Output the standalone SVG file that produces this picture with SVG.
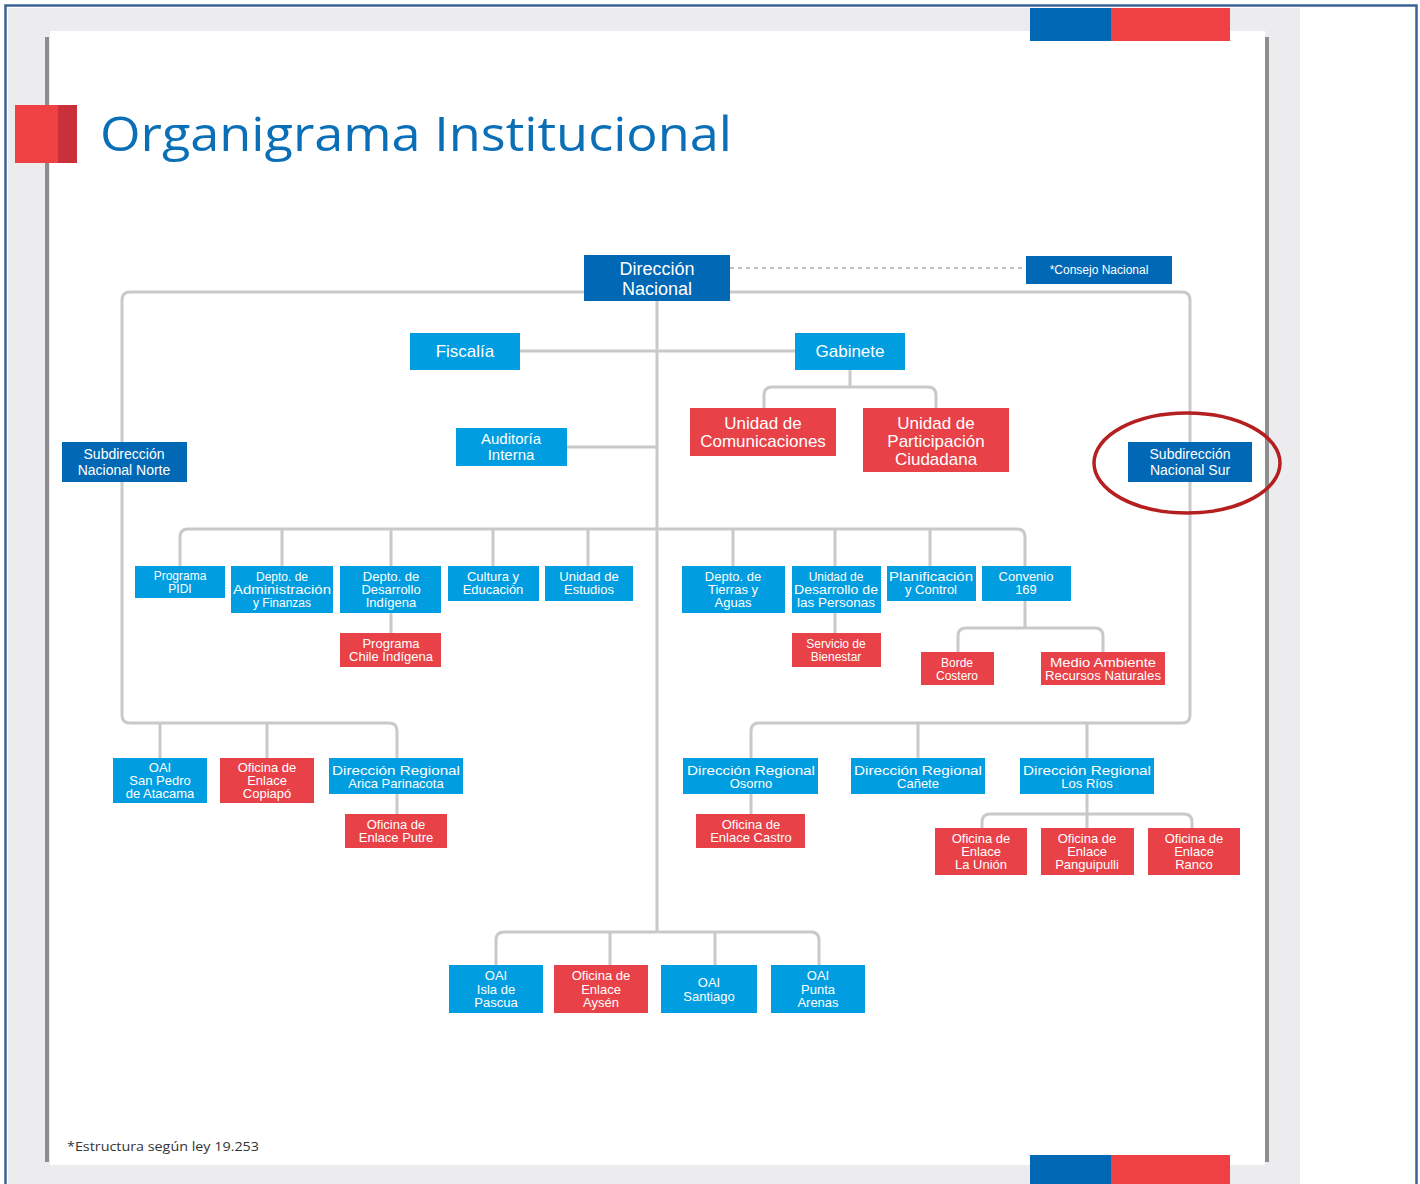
<svg xmlns="http://www.w3.org/2000/svg" width="1420" height="1184" viewBox="0 0 1420 1184">
<style>
.db{fill:#0068b4}
.lb{fill:#009ee0}
.rd{fill:#e84147}
.t{fill:#fff;font-family:"Liberation Sans",Arial,sans-serif;font-size:13px;text-anchor:middle}
.t17{font-size:17px}
.t14{font-size:14px}
.t12{font-size:12px}
#connectors path{fill:none;stroke:#c9c9c9;stroke-width:3}
</style>
<rect x="0" y="0" width="1420" height="1184" fill="#fff"/>
<rect x="8" y="8" width="1292" height="1176" fill="#ececee"/>
<rect x="50" y="31" width="1215" height="1134" fill="#fff"/>
<rect x="45" y="37" width="4" height="1125" fill="#8d8d8d"/>
<rect x="1265" y="37" width="4" height="1125" fill="#8d8d8d"/>
<path d="M5.5,1184 V5.5 H1416.5 V1184" fill="none" stroke="#3b6394" stroke-width="2.5"/>
<rect x="1030" y="8" width="81" height="33" fill="#0068b4"/>
<rect x="1111" y="8" width="119" height="33" fill="#ef4144"/>
<rect x="1030" y="1155" width="81" height="29" fill="#0068b4"/>
<rect x="1111" y="1155" width="119" height="29" fill="#ef4144"/>
<rect x="15" y="105" width="62" height="58" fill="#ef4144"/>
<rect x="58" y="105" width="19" height="58" fill="#c9303a"/>
<text x="100" y="151" font-family="Open Sans, Noto Sans, sans-serif" font-size="48" fill="#0a6fb6" textLength="632" lengthAdjust="spacingAndGlyphs">Organigrama Institucional</text>
<text x="67" y="1151" font-family="Open Sans, Noto Sans, sans-serif" font-size="12" fill="#333" textLength="192" lengthAdjust="spacingAndGlyphs">*Estructura según ley 19.253</text>

<g id="connectors">
<path d="M730,268 H1026" style="stroke:#aaaaaa;stroke-width:1.5;stroke-dasharray:4 4"/>
<path d="M584,292 H130 Q122,292 122,300 V715 Q122,723 130,723 H389 Q397,723 397,731 V758"/>
<path d="M730,292 H1182 Q1190,292 1190,300 V715 Q1190,723 1182,723 H759 Q751,723 751,731 V758"/>
<path d="M160,723 V758 M267,723 V758 M918,723 V758 M1087,723 V758"/>
<path d="M657,301 V932"/>
<path d="M496,965 V940 Q496,932 504,932 H811 Q819,932 819,940 V965 M610,932 V965 M715,932 V965"/>
<path d="M520,351 H795"/>
<path d="M850,370 V387 M764,408 V395 Q764,387 772,387 H928 Q936,387 936,395 V408"/>
<path d="M567,447 H657"/>
<path d="M180,566 V537 Q180,529 188,529 H1017 Q1025,529 1025,537 V566"/>
<path d="M282,529 V566 M391,529 V566 M493,529 V566 M588,529 V566 M733,529 V566 M835,529 V566 M930,529 V566"/>
<path d="M391,613 V633 M835,613 V633"/>
<path d="M1025,601 V628 M958,652 V636 Q958,628 966,628 H1095 Q1103,628 1103,636 V652"/>
<path d="M397,794 V814 M751,794 V814"/>
<path d="M1087,794 V828 M982,828 V822 Q982,814 990,814 H1184 Q1192,814 1192,822 V828"/>
</g>

<g id="direccion-nacional"><rect class="db" x="584" y="255" width="146" height="46"/><text class="t" style="font-size:18px" x="657"><tspan x="657" y="275">Dirección</tspan><tspan x="657" y="295">Nacional</tspan></text></g>
<g id="consejo-nacional"><rect class="db" x="1026" y="256" width="146" height="28"/><text class="t t12" x="1099" y="274">*Consejo Nacional</text></g>
<g id="fiscalia"><rect class="lb" x="410" y="333" width="110" height="37"/><text class="t t17" x="465" y="357">Fiscalía</text></g>
<g id="gabinete"><rect class="lb" x="795" y="333" width="110" height="37"/><text class="t t17" x="850" y="357">Gabinete</text></g>
<g id="unidad-comunicaciones"><rect class="rd" x="690" y="408" width="146" height="48"/><text class="t t17"><tspan x="763" y="429">Unidad de</tspan><tspan x="763" y="447">Comunicaciones</tspan></text></g>
<g id="unidad-participacion"><rect class="rd" x="863" y="408" width="146" height="64"/><text class="t t17"><tspan x="936" y="429">Unidad de</tspan><tspan x="936" y="447">Participación</tspan><tspan x="936" y="465">Ciudadana</tspan></text></g>
<g id="auditoria"><rect class="lb" x="456" y="428" width="111" height="38"/><text class="t" style="font-size:15px"><tspan x="511" y="444">Auditoría</tspan><tspan x="511" y="460">Interna</tspan></text></g>
<g id="subdireccion-norte"><rect class="db" x="62" y="442" width="125" height="40"/><text class="t t14"><tspan x="124" y="459">Subdirección</tspan><tspan x="124" y="475">Nacional Norte</tspan></text></g>
<g id="subdireccion-sur"><rect class="db" x="1128" y="442" width="124" height="40"/><text class="t t14"><tspan x="1190" y="459">Subdirección</tspan><tspan x="1190" y="475">Nacional Sur</tspan></text></g>
<ellipse cx="1187" cy="463" rx="93" ry="50" fill="none" stroke="#b51f1f" stroke-width="3.5"/>

<g id="programa-pidi"><rect class="lb" x="135" y="566" width="90" height="32"/><text class="t t12"><tspan x="180" y="580">Programa</tspan><tspan x="180" y="593">PIDI</tspan></text></g>
<g id="depto-administracion"><rect class="lb" x="231" y="566" width="102" height="47"/><text class="t t12"><tspan x="282" y="581">Depto. de</tspan><tspan x="282" y="594" textLength="98" lengthAdjust="spacingAndGlyphs">Administración</tspan><tspan x="282" y="607">y Finanzas</tspan></text></g>
<g id="depto-desarrollo-indigena"><rect class="lb" x="340" y="566" width="101" height="47"/><text class="t"><tspan x="391" y="581">Depto. de</tspan><tspan x="391" y="594">Desarrollo</tspan><tspan x="391" y="607">Indígena</tspan></text></g>
<g id="cultura-educacion"><rect class="lb" x="448" y="566" width="91" height="35"/><text class="t"><tspan x="493" y="581">Cultura y</tspan><tspan x="493" y="594">Educación</tspan></text></g>
<g id="unidad-estudios"><rect class="lb" x="545" y="566" width="88" height="35"/><text class="t"><tspan x="589" y="581">Unidad de</tspan><tspan x="589" y="594">Estudios</tspan></text></g>
<g id="programa-chile-indigena"><rect class="rd" x="340" y="633" width="101" height="34"/><text class="t"><tspan x="391" y="648">Programa</tspan><tspan x="391" y="661">Chile Indígena</tspan></text></g>
<g id="depto-tierras"><rect class="lb" x="682" y="566" width="103" height="47"/><text class="t"><tspan x="733" y="581">Depto. de</tspan><tspan x="733" y="594">Tierras y</tspan><tspan x="733" y="607">Aguas</tspan></text></g>
<g id="unidad-desarrollo-personas"><rect class="lb" x="792" y="566" width="89" height="47"/><text class="t t12"><tspan x="836" y="581">Unidad de</tspan><tspan x="836" y="594" textLength="84" lengthAdjust="spacingAndGlyphs">Desarrollo de</tspan><tspan x="836" y="607" textLength="78" lengthAdjust="spacingAndGlyphs">las Personas</tspan></text></g>
<g id="planificacion"><rect class="lb" x="887" y="566" width="89" height="35"/><text class="t"><tspan x="931" y="581" textLength="84" lengthAdjust="spacingAndGlyphs">Planificación</tspan><tspan x="931" y="594">y Control</tspan></text></g>
<g id="convenio-169"><rect class="lb" x="982" y="566" width="89" height="35"/><text class="t"><tspan x="1026" y="581">Convenio</tspan><tspan x="1026" y="594">169</tspan></text></g>
<g id="servicio-bienestar"><rect class="rd" x="792" y="633" width="89" height="34"/><text class="t t12"><tspan x="836" y="648">Servicio de</tspan><tspan x="836" y="661">Bienestar</tspan></text></g>
<g id="borde-costero"><rect class="rd" x="921" y="652" width="73" height="33"/><text class="t t12"><tspan x="957" y="667">Borde</tspan><tspan x="957" y="680">Costero</tspan></text></g>
<g id="medio-ambiente"><rect class="rd" x="1041" y="652" width="124" height="33"/><text class="t t12"><tspan x="1103" y="667" textLength="106" lengthAdjust="spacingAndGlyphs">Medio Ambiente</tspan><tspan x="1103" y="680" textLength="116" lengthAdjust="spacingAndGlyphs">Recursos Naturales</tspan></text></g>

<g id="oai-san-pedro"><rect class="lb" x="113" y="758" width="94" height="45"/><text class="t"><tspan x="160" y="772">OAI</tspan><tspan x="160" y="785">San Pedro</tspan><tspan x="160" y="798">de Atacama</tspan></text></g>
<g id="oficina-copiapo"><rect class="rd" x="220" y="758" width="94" height="45"/><text class="t"><tspan x="267" y="772">Oficina de</tspan><tspan x="267" y="785">Enlace</tspan><tspan x="267" y="798">Copiapó</tspan></text></g>
<g id="dr-arica"><rect class="lb" x="329" y="758" width="134" height="36"/><text class="t"><tspan x="396" y="775" textLength="128" lengthAdjust="spacingAndGlyphs">Dirección Regional</tspan><tspan x="396" y="788">Arica Parinacota</tspan></text></g>
<g id="oficina-putre"><rect class="rd" x="345" y="814" width="102" height="34"/><text class="t"><tspan x="396" y="829">Oficina de</tspan><tspan x="396" y="842">Enlace Putre</tspan></text></g>
<g id="dr-osorno"><rect class="lb" x="683" y="758" width="135" height="36"/><text class="t"><tspan x="751" y="775" textLength="128" lengthAdjust="spacingAndGlyphs">Dirección Regional</tspan><tspan x="751" y="788">Osorno</tspan></text></g>
<g id="oficina-castro"><rect class="rd" x="696" y="814" width="109" height="34"/><text class="t"><tspan x="751" y="829">Oficina de</tspan><tspan x="751" y="842">Enlace Castro</tspan></text></g>
<g id="dr-canete"><rect class="lb" x="851" y="758" width="134" height="36"/><text class="t"><tspan x="918" y="775" textLength="128" lengthAdjust="spacingAndGlyphs">Dirección Regional</tspan><tspan x="918" y="788">Cañete</tspan></text></g>
<g id="dr-los-rios"><rect class="lb" x="1020" y="758" width="134" height="36"/><text class="t"><tspan x="1087" y="775" textLength="128" lengthAdjust="spacingAndGlyphs">Dirección Regional</tspan><tspan x="1087" y="788">Los Ríos</tspan></text></g>
<g id="oficina-la-union"><rect class="rd" x="935" y="828" width="92" height="47"/><text class="t"><tspan x="981" y="843">Oficina de</tspan><tspan x="981" y="856">Enlace</tspan><tspan x="981" y="869">La Unión</tspan></text></g>
<g id="oficina-panguipulli"><rect class="rd" x="1041" y="828" width="93" height="47"/><text class="t"><tspan x="1087" y="843">Oficina de</tspan><tspan x="1087" y="856">Enlace</tspan><tspan x="1087" y="869">Panguipulli</tspan></text></g>
<g id="oficina-ranco"><rect class="rd" x="1148" y="828" width="92" height="47"/><text class="t"><tspan x="1194" y="843">Oficina de</tspan><tspan x="1194" y="856">Enlace</tspan><tspan x="1194" y="869">Ranco</tspan></text></g>

<g id="oai-isla-pascua"><rect class="lb" x="449" y="965" width="94" height="48"/><text class="t"><tspan x="496" y="980">OAI</tspan><tspan x="496" y="994">Isla de</tspan><tspan x="496" y="1007">Pascua</tspan></text></g>
<g id="oficina-aysen"><rect class="rd" x="554" y="965" width="94" height="48"/><text class="t"><tspan x="601" y="980">Oficina de</tspan><tspan x="601" y="994">Enlace</tspan><tspan x="601" y="1007">Aysén</tspan></text></g>
<g id="oai-santiago"><rect class="lb" x="661" y="965" width="96" height="48"/><text class="t"><tspan x="709" y="987">OAI</tspan><tspan x="709" y="1001">Santiago</tspan></text></g>
<g id="oai-punta-arenas"><rect class="lb" x="771" y="965" width="94" height="48"/><text class="t"><tspan x="818" y="980">OAI</tspan><tspan x="818" y="994">Punta</tspan><tspan x="818" y="1007">Arenas</tspan></text></g>
</svg>
